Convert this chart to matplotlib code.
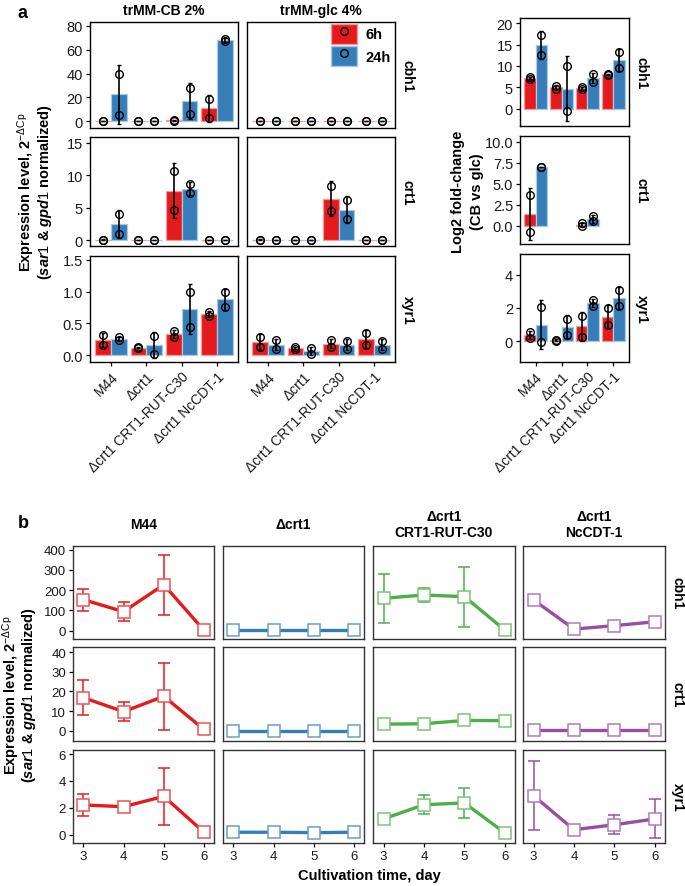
import numpy as np
import matplotlib
matplotlib.use('Agg')
import matplotlib.pyplot as plt
from matplotlib.patches import Patch
from matplotlib.lines import Line2D
from matplotlib.legend_handler import HandlerTuple

plt.rcParams['font.family'] = ['Liberation Sans', 'DejaVu Sans']
plt.rcParams['mathtext.fontset'] = 'custom'
plt.rcParams['mathtext.rm'] = 'Liberation Sans'
plt.rcParams['mathtext.it'] = 'Liberation Sans:italic:bold'
plt.rcParams['mathtext.bf'] = 'Liberation Sans:bold'

# ---------------- data: panel a (replicate values) ----------------
strains = ["M44", "Δcrt1", "Δcrt1 CRT1-RUT-C30", "Δcrt1 NcCDT-1"]
genes = ["cbh1", "crt1", "xyr1"]
conditions = ["trMM-CB 2%", "trMM-glc 4%"]
time_labels = ["6h", "24h"]

# trMM-CB 2%
cb_cbh1_6h = [[0.1, 0.5], [0.05, 0.1], [1.2, 0.4], [18.5, 3.0]]
cb_cbh1_24h = [[40.0, 5.0], [0.1, 0.05], [28.0, 6.5], [69.0, 67.0]]
cb_crt1_6h = [[0.05, 0.1], [0.0, 0.0], [10.6, 4.6], [0.0, 0.0]]
cb_crt1_24h = [[4.0, 0.9], [0.0, 0.0], [8.7, 7.2], [0.0, 0.0]]
cb_xyr1_6h = [[0.31, 0.16], [0.12, 0.11], [0.38, 0.29], [0.68, 0.61]]
cb_xyr1_24h = [[0.28, 0.23], [0.30, 0.015], [1.0, 0.44], [0.99, 0.76]]
# trMM-glc 4%
glc_cbh1_6h = [[0.2, 0.3], [0.2, 0.3], [0.2, 0.4], [0.2, 0.3]]
glc_cbh1_24h = [[0.2, 0.3], [0.2, 0.3], [0.2, 0.4], [0.2, 0.4]]
glc_crt1_6h = [[0.05, 0.1], [0.0, 0.0], [8.3, 4.5], [0.0, 0.0]]
glc_crt1_24h = [[0.0, 0.0], [0.0, 0.0], [6.2, 3.2], [0.0, 0.0]]
glc_xyr1_6h = [[0.29, 0.12], [0.12, 0.10], [0.23, 0.13], [0.35, 0.15]]
glc_xyr1_24h = [[0.23, 0.10], [0.11, 0.02], [0.22, 0.10], [0.22, 0.10]]
# Log2 fold-change (CB vs glc)
fc_cbh1_6h = [[7.4, 7.0], [5.4, 4.7], [5.1, 4.6], [8.2, 8.0]]
fc_cbh1_24h = [[17.3, 12.6], [10.1, -0.6], [8.1, 6.3], [13.2, 9.5]]
fc_crt1_6h = [[3.6, -0.8], None, [0.25, -0.05], None]
fc_crt1_24h = [[7.02, 6.98], None, [1.15, 0.5], None]
fc_xyr1_6h = [[0.55, 0.2], [0.08, 0.01], [1.52, 0.26], [1.97, 0.98]]
fc_xyr1_24h = [[2.06, -0.06], [1.35, 0.37], [2.5, 2.15], [3.08, 2.15]]

# ---------------- data: panel b (mean and sd) ----------------
days = [3, 4, 5, 6]
b_strains = ["M44", "Δcrt1", "Δcrt1\nCRT1-RUT-C30", "Δcrt1\nNcCDT-1"]
cbh1_mean = [[153, 94, 227, 2], [1, 1, 1, 1], [160, 176, 168, 3], [152, 8, 25, 44]]
cbh1_sd = [[55, 46, 148, 1], [0.5, 0.5, 0.5, 0.5], [121, 35, 148, 1], [25, 4, 4, 4]]
crt1_mean = [[16.8, 9.7, 17.5, 0.6], [0.05, 0.05, 0.05, 0.05], [3.3, 3.5, 5.2, 5.1], [0.1, 0.1, 0.1, 0.1]]
crt1_sd = [[9.0, 4.7, 17.0, 0.3], [0.02, 0.02, 0.02, 0.02], [0.5, 0.4, 0.6, 0.5], [0.05, 0.05, 0.05, 0.05]]
xyr1_mean = [[2.21, 2.08, 2.85, 0.18], [0.18, 0.18, 0.15, 0.18], [1.17, 2.23, 2.36, 0.13], [2.9, 0.37, 0.74, 1.17]]
xyr1_sd = [[0.8, 0.1, 2.1, 0.05], [0.02, 0.02, 0.02, 0.02], [0.1, 0.7, 1.13, 0.05], [2.58, 0.1, 0.7, 1.45]]

RED, BLUE, GREEN, PURPLE = '#E41A1C', '#377EB8', '#4DAF4A', '#984EA3'
RED_E, BLUE_E = '#F39A9B', '#A9C9E6'
b_colors = [RED, BLUE, GREEN, PURPLE]

W, H = 685, 887
fig = plt.figure(figsize=(W / 100, H / 100), dpi=100)


def add_ax(l, t, r, b):
    return fig.add_axes([l / W, 1 - b / H, (r - l) / W, (b - t) / H])


def ftext(x, y, s, **kw):
    fig.text(x / W, 1 - y / H, s, **kw)


def lighten(c, f):
    rgb = np.array(matplotlib.colors.to_rgb(c))
    return tuple(rgb + (1 - rgb) * f)


def style(ax, xt, yt, spine='black', lsize=9.5):
    for sp in ax.spines.values():
        sp.set_color(spine)
        sp.set_linewidth(1.0)
    ax.tick_params(direction='out', length=3, width=0.9, labelsize=lsize,
                   colors='black', labelcolor='#1a1a1a', pad=2)
    if not xt:
        ax.tick_params(axis='x', bottom=False, labelbottom=False)
    if not yt:
        ax.tick_params(axis='y', left=False, labelleft=False)


def bar_panel(ax, r6, r24, ylim, yticks, yfmt):
    x = np.arange(1, 5)
    for off, reps, col, ecol in [(-0.225, r6, RED, RED_E), (0.225, r24, BLUE, BLUE_E)]:
        for i, r in enumerate(reps):
            if r is None:
                continue
            m = np.mean(r)
            s = np.std(r, ddof=1)
            ax.bar(x[i] + off, m, width=0.45, color=col, edgecolor=ecol, lw=0.9, zorder=2)
            ax.errorbar(x[i] + off, m, yerr=s, color='black', lw=1.2, capsize=1.5,
                        capthick=1.0, zorder=3)
            ax.plot([x[i] + off] * len(r), r, 'o', mfc='none', mec='black', ms=5.5,
                    mew=1.0, zorder=4)
    ax.set_xlim(0.4, 4.6)
    ax.set_ylim(*ylim)
    ax.set_yticks(yticks)
    ax.set_yticklabels([yfmt.format(v) for v in yticks])
    ax.set_xticks(x)


# ---------------- panel a ----------------
left_cols = [(90, 238), (247, 395)]
left_rows = [(23, 129), (138, 247), (257, 363)]
left_ylims = [(-5.6, 83.1), (-0.9, 15.9), (-0.11, 1.56)]
left_yticks = [[0, 20, 40, 60, 80], [0, 5, 10, 15], [0.0, 0.5, 1.0, 1.5]]
left_fmts = ['{:.0f}', '{:.0f}', '{:.1f}']
cb_data = [(cb_cbh1_6h, cb_cbh1_24h), (cb_crt1_6h, cb_crt1_24h), (cb_xyr1_6h, cb_xyr1_24h)]
glc_data = [(glc_cbh1_6h, glc_cbh1_24h), (glc_crt1_6h, glc_crt1_24h), (glc_xyr1_6h, glc_xyr1_24h)]

for ci, (cl, cr) in enumerate(left_cols):
    data = cb_data if ci == 0 else glc_data
    for ri, (rt, rb) in enumerate(left_rows):
        ax = add_ax(cl, rt, cr, rb)
        bar_panel(ax, data[ri][0], data[ri][1], left_ylims[ri], left_yticks[ri], left_fmts[ri])
        style(ax, ri == 2, ci == 0, lsize=10.5)
        if ri == 2:
            ax.set_xticklabels(strains, rotation=45, ha='right', rotation_mode='anchor',
                               fontsize=10)
        if ri == 0 and ci == 1:
            h6 = (Patch(facecolor=RED, edgecolor=RED_E),
                  Line2D([], [], ls='none', marker='o', mfc='none', mec='black', ms=5.5))
            h24 = (Patch(facecolor=BLUE, edgecolor=BLUE_E),
                   Line2D([], [], ls='none', marker='o', mfc='none', mec='black', ms=5.5))
            ax.legend([h6, h24], time_labels,
                      handler_map={tuple: HandlerTuple(ndivide=1, pad=0)},
                      loc='upper left', bbox_to_anchor=(0.57, 0.985), frameon=False,
                      handlelength=1.75, handleheight=1.75, labelspacing=0.15, borderpad=0,
                      borderaxespad=0, handletextpad=0.6,
                      prop={'weight': 'bold', 'size': 10.5})
    ftext((cl + cr) / 2, 11, conditions[ci], ha='center', va='center', fontsize=10,
          fontweight='bold')

for ri, (rt, rb) in enumerate(left_rows):
    ftext(408, (rt + rb) / 2, genes[ri], rotation=-90, ha='center', va='center',
          fontsize=10, fontweight='bold')

# right: fold change
right_rows = [(19, 127), (137, 245), (255, 363)]
right_ylims = [(-4.0, 21.2), (-2.2, 10.7), (-1.27, 5.27)]
right_yticks = [[0, 5, 10, 15, 20], [0.0, 2.5, 5.0, 7.5, 10.0], [0, 2, 4]]
right_fmts = ['{:.0f}', '{:.1f}', '{:.0f}']
fc_data = [(fc_cbh1_6h, fc_cbh1_24h), (fc_crt1_6h, fc_crt1_24h), (fc_xyr1_6h, fc_xyr1_24h)]
for ri, (rt, rb) in enumerate(right_rows):
    ax = add_ax(520, rt, 629, rb)
    bar_panel(ax, fc_data[ri][0], fc_data[ri][1], right_ylims[ri], right_yticks[ri], right_fmts[ri])
    style(ax, ri == 2, True, lsize=10.5)
    if ri == 2:
        ax.set_xticklabels(strains, rotation=45, ha='right', rotation_mode='anchor',
                           fontsize=10)
    ftext(642, (rt + rb) / 2, genes[ri], rotation=-90, ha='center', va='center',
          fontsize=10, fontweight='bold')

ftext(26, 192, r"Expression level, 2$^{\mathrm{-\Delta Cp}}$", rotation=90, ha='center',
      va='center', fontsize=10.5, fontweight='bold')
ftext(45, 192, r"($\mathit{sar1}$ & $\mathit{gpd1}$ normalized)", rotation=90, ha='center',
      va='center', fontsize=10.5, fontweight='bold')
ftext(458, 192, "Log2 fold-change", rotation=90, ha='center', va='center', fontsize=10.5,
      fontweight='bold')
ftext(477, 192, "(CB vs glc)", rotation=90, ha='center', va='center', fontsize=10.5,
      fontweight='bold')
ftext(23, 14, "a", ha='center', va='center', fontsize=13, fontweight='bold')

# ---------------- panel b ----------------
b_cols = [(73, 214), (223, 364), (373, 515), (523, 665)]
b_rows = [(547, 640), (648, 742), (751, 844)]
b_ylims = [(-41, 418), (-5.3, 42.7), (-0.62, 6.3)]
b_yticks = [[0, 100, 200, 300, 400], [0, 10, 20, 30, 40], [0, 2, 4, 6]]
b_means = [cbh1_mean, crt1_mean, xyr1_mean]
b_sds = [cbh1_sd, crt1_sd, xyr1_sd]

for ci, (cl, cr) in enumerate(b_cols):
    col = b_colors[ci]
    for ri, (rt, rb) in enumerate(b_rows):
        ax = add_ax(cl, rt, cr, rb)
        m = b_means[ri][ci]
        s = b_sds[ri][ci]
        ax.errorbar(days, m, yerr=s, fmt='none', ecolor=col, elinewidth=1.1, capsize=4,
                    capthick=1.1, zorder=2)
        ax.plot(days, m, '-', color=col, lw=2.4, zorder=3)
        ax.plot(days, m, 's', ls='none', mfc='white', mec=lighten(col, 0.25), ms=8,
                mew=1.1, zorder=4)
        ax.set_xlim(2.74, 6.25)
        ax.set_ylim(*b_ylims[ri])
        ax.set_xticks(days)
        ax.set_yticks(b_yticks[ri])
        style(ax, ri == 2, ci == 0, spine='#333333', lsize=9.5)
    ftext((cl + cr) / 2, 525, b_strains[ci], ha='center', va='center', fontsize=10,
          fontweight='bold', linespacing=1.15)

for ri, (rt, rb) in enumerate(b_rows):
    ftext(678, (rt + rb) / 2, genes[ri], rotation=-90, ha='center', va='center',
          fontsize=10, fontweight='bold')

ftext(11, 695, r"Expression level, 2$^{\mathrm{-\Delta Cp}}$", rotation=90, ha='center',
      va='center', fontsize=10.5, fontweight='bold')
ftext(29, 695, r"($\mathit{sar1}$ & $\mathit{gpd1}$ normalized)", rotation=90, ha='center',
      va='center', fontsize=10.5, fontweight='bold')
ftext(369, 876, "Cultivation time, day", ha='center', va='center', fontsize=10.5,
      fontweight='bold')
ftext(23, 524, "b", ha='center', va='center', fontsize=13, fontweight='bold')

fig.savefig('out.png', dpi=100)
